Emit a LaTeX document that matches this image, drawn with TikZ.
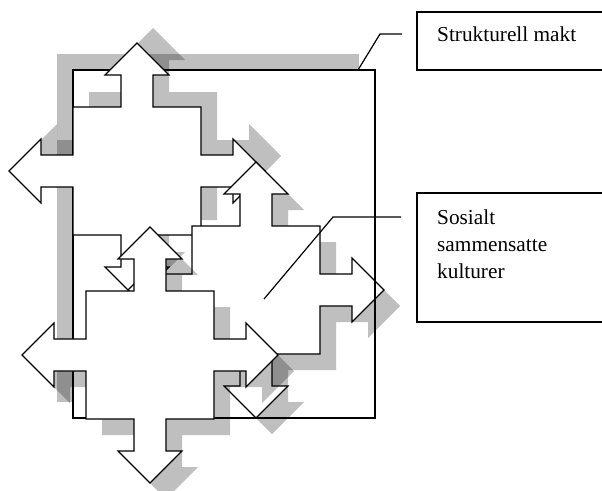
\documentclass[tikz,border=0pt]{standalone}
\usepackage{fontspec}
\setmainfont{Liberation Serif}
\begin{document}
\begin{tikzpicture}[x=1pt,y=-1pt,
  quad/.pic={
    \path[pic actions] (0,-128) -- (32,-96) -- (16,-96) -- (16,-64) -- (64,-64) -- (64,-16) -- (96,-16) -- (96,-32) -- (128,0) -- (96,32) -- (96,16) -- (64,16) -- (64,64) -- (16,64) -- (16,96) -- (32,96) -- (0,128) -- (-32,96) -- (-16,96) -- (-16,64) -- (-64,64) -- (-64,16) -- (-96,16) -- (-96,32) -- (-128,0) -- (-96,-32) -- (-96,-16) -- (-64,-16) -- (-64,-64) -- (-16,-64) -- (-16,-96) -- (-32,-96) -- cycle;
  },
  crossline/.style={draw=black, line width=1.2pt, fill=white},
  shadowfill/.style={fill=black, fill opacity=0.25, draw=none},
  thinline/.style={draw=black, line width=1.2pt},
  labeltext/.style={anchor=base west, inner sep=0pt, font=\fontsize{21.3}{27}\selectfont}
]
\useasboundingbox (0,0) rectangle (602,490);
% big frame "Strukturell makt"
\fill[shadowfill] (57,54) rectangle (359,402);
\draw[crossline] (73,70) rectangle (375,418);
% cross A
\pic[shadowfill] at (153,156) {quad};
\pic[crossline] at (137,171) {quad};
% cross B
\pic[shadowfill] at (272,306) {quad};
\pic[crossline] at (256,290) {quad};
\coordinate (frtop) at (375,70);
\coordinate (frbot) at (375,418);
\draw[thinline] (frtop) -- (frbot);
% cross C
\pic[shadowfill] at (166,371) {quad};
\pic[crossline] at (150,355) {quad};
% callout boxes
\draw[thinline] (417,12) rectangle (620,70);
\draw[thinline] (417,193) rectangle (620,322);
\node[labeltext] (tmakt) at (437,41.7) {Strukturell makt};
\node[labeltext] (tsos1) at (437,224) {Sosialt};
\node[labeltext] (tsos2) at (437,251.5) {sammensatte};
\node[labeltext] (tsos3) at (437,278.5) {kulturer};
% callout lines
\coordinate (ca1) at (358,70);
\coordinate (ca2) at (380,34);
\coordinate (ca3) at (402,34);
\draw[thinline] (ca1) -- (ca2) -- (ca3);
\coordinate (cb1) at (264,299);
\coordinate (cb2) at (333,217);
\coordinate (cb3) at (401,217);
\draw[thinline] (cb1) -- (cb2) -- (cb3);
\end{tikzpicture}
\end{document}
